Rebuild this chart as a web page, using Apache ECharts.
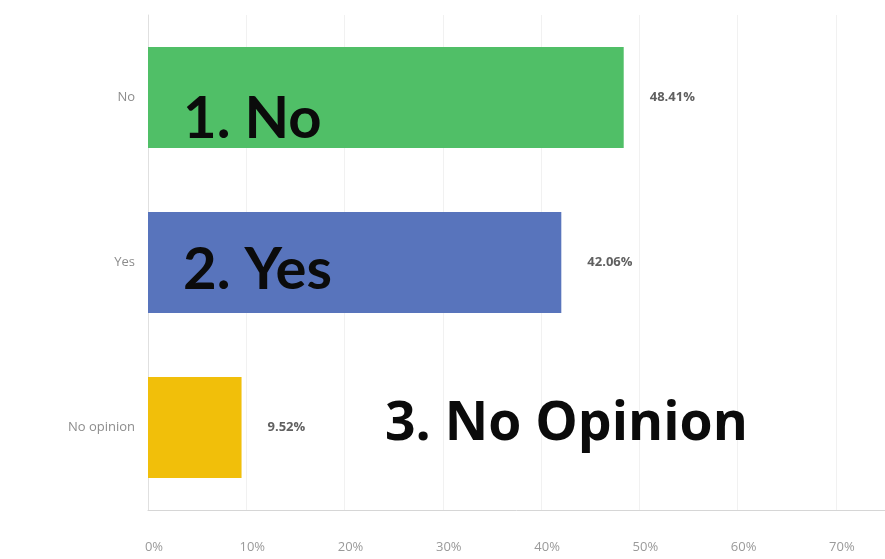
<!DOCTYPE html>
<html>
<head>
<meta charset="utf-8">
<script src="https://cdn.jsdelivr.net/npm/echarts@6/dist/echarts.min.js"></script>
<style>
  html, body { margin: 0; padding: 0; background: #fff; }
  #chart { width: 885px; height: 559px; }
</style>
</head>
<body>
<div id="chart"></div>
<script>
// 数据
var categories = ['No', 'Yes', 'No opinion'];
var values = [48.41, 42.06, 9.52];
var barColors = ['#50BF67', '#5874BC', '#F1BF0A'];
var tickLabels = ['0%', '10%', '20%', '30%', '40%', '50%', '60%', '70%'];
var notes = ['1. No', '2. Yes', '3. No Opinion'];

var chart = echarts.init(document.getElementById('chart'));

var seriesData = values.map(function (v, i) {
    return { value: v, itemStyle: { color: barColors[i] } };
});

chart.setOption({
    animation: false,
    grid: { left: 148, right: 0, top: 15, bottom: 49 },
    xAxis: {
        type: 'value',
        min: 0,
        max: 75,
        interval: 10,
        axisLine: { show: true, lineStyle: { color: '#d6d6d6', width: 1 } },
        axisTick: { show: false },
        splitLine: { show: true, lineStyle: { color: '#f1f1f1' } },
        axisLabel: {
            color: '#9a9a9a',
            fontSize: 13,
            fontFamily: 'Open Sans',
            margin: 31,
            padding: [0, 0, 0, 12],
            showMaxLabel: false,
            formatter: function (v) {
                var idx = Math.round(v / 10);
                return tickLabels[idx] !== undefined && v % 10 === 0 ? tickLabels[idx] : '';
            }
        }
    },
    yAxis: {
        type: 'category',
        inverse: true,
        data: categories,
        axisLine: { show: true, lineStyle: { color: '#e0e0e0' } },
        axisTick: { show: false },
        axisLabel: { color: '#8c8c8c', fontSize: 13, fontFamily: 'Open Sans', margin: 13 }
    },
    series: [{
        type: 'bar',
        data: seriesData,
        barWidth: 101,
        label: {
            show: true,
            position: 'right',
            distance: 26,
            color: '#606060',
            fontSize: 13,
            fontWeight: 'bold',
            fontFamily: 'Open Sans',
            formatter: function (p) { return p.value.toFixed(2) + '%'; }
        }
    }],
    // 叠加的注释文字
    graphic: [
        { type: 'text', z: 200, left: 183, top: 90, style: { text: notes[0], fontFamily: 'Lato', fontWeight: 'bold', fontSize: 58, fill: '#0b0b0b' } },
        { type: 'text', z: 200, left: 183, top: 241, style: { text: notes[1], fontFamily: 'Lato', fontWeight: 'bold', fontSize: 58, fill: '#0b0b0b' } },
        { type: 'text', z: 200, left: 385, top: 398, style: { text: notes[2], fontFamily: 'Open Sans', fontWeight: 'bold', fontSize: 53.5, fill: '#0b0b0b' } }
    ]
});
</script>
</body>
</html>
